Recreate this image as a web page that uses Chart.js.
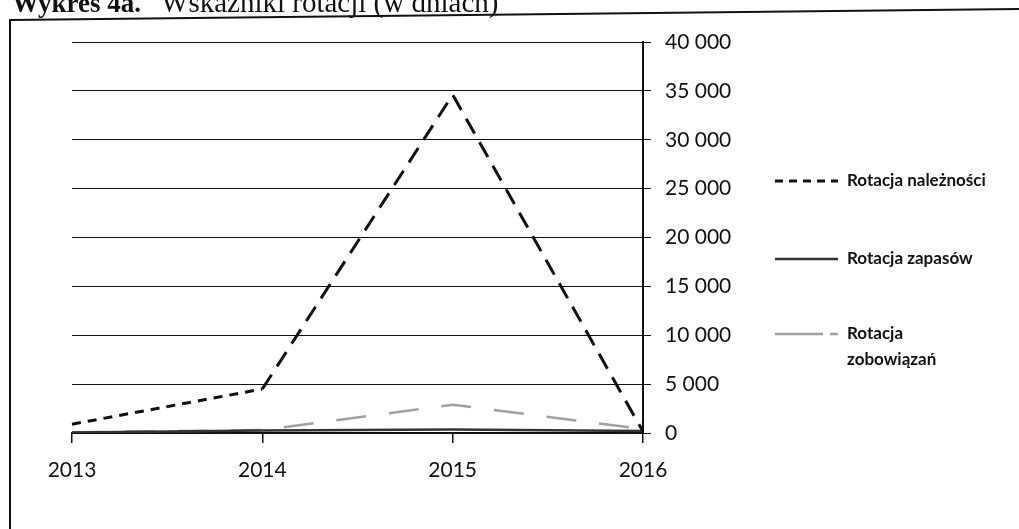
<!DOCTYPE html>
<html lang="pl">
<head>
<meta charset="utf-8">
<title>Wskaźniki rotacji</title>
<script src="https://cdn.jsdelivr.net/npm/chart.js@4/dist/chart.umd.min.js"></script>
<style>
  html, body { margin: 0; padding: 0; background: #fff; }
  #wrap { position: relative; width: 1019px; height: 529px; overflow: hidden; }
  #chart { position: absolute; left: 0; top: 0; }
  #title {
    position: absolute; left: 12px; top: -12px;
    font-family: "Liberation Serif", "DejaVu Serif", serif;
    font-size: 29px; line-height: 29px; color: #111; white-space: nowrap;
  }
  #title b { font-weight: bold; font-size: 27px; margin-right: 20px; }
</style>
</head>
<body>
<div id="wrap">
  <canvas id="chart" width="1019" height="529"></canvas>
  <div id="title"><b>Wykres 4a.</b>Wskaźniki rotacji (w dniach)</div>
</div>
<script>
// Lata na osi kategorii
const years = ['2013', '2014', '2015', '2016'];

// Wskaźniki rotacji w dniach
const rotacjaNaleznosci = [900, 4500, 34600, 150];
const rotacjaZapasow = [60, 250, 350, 200];
const rotacjaZobowiazan = [80, 300, 2900, 400];

// Podziałka osi wartości
const yMin = 0;
const yMax = 40000;
const yStep = 5000;

// Nazwy serii (ostatnia łamana w legendzie na dwie linie)
const seriesNames = [
  ['Rotacja należności'],
  ['Rotacja zapasów'],
  ['Rotacja', 'zobowiązań']
];

const fmt = v => String(v).replace(/\B(?=(\d{3})+(?!\d))/g, ' ');

// Ramka wykresu: lewa i górna krawędź
const framePlugin = {
  id: 'frame',
  beforeDraw(chart) {
    const ctx = chart.ctx;
    ctx.save();
    ctx.strokeStyle = '#111';
    ctx.lineWidth = 2;
    ctx.beginPath();
    ctx.moveTo(10, chart.height);
    ctx.lineTo(10, 20);
    ctx.lineTo(chart.width, 9);
    ctx.stroke();
    ctx.restore();
  }
};

// Legenda po prawej stronie, rysowana wg stylów serii
const sideLegend = {
  id: 'sideLegend',
  afterDraw(chart) {
    const ctx = chart.ctx;
    const x0 = chart.chartArea.right + 132;
    const rows = [181, 259, 334];
    ctx.save();
    chart.data.datasets.forEach((ds, i) => {
      const y = rows[i];
      ctx.strokeStyle = ds.borderColor;
      ctx.lineWidth = ds.borderWidth;
      ctx.setLineDash(ds.legendDash || []);
      ctx.beginPath();
      ctx.moveTo(x0, y);
      ctx.lineTo(x0 + 63, y);
      ctx.stroke();
      ctx.setLineDash([]);
      ctx.fillStyle = '#111';
      ctx.font = 'bold 17px Lato, sans-serif';
      ctx.textBaseline = 'middle';
      ctx.textAlign = 'left';
      seriesNames[i].forEach((line, k) => {
        ctx.fillText(line, x0 + 72, y + k * 26);
      });
    });
    ctx.restore();
  }
};

new Chart(document.getElementById('chart'), {
  type: 'line',
  data: {
    labels: years,
    datasets: [
      {
        label: seriesNames[0].join(' '),
        data: rotacjaNaleznosci,
        borderColor: '#111',
        borderWidth: 3,
        legendDash: [8, 6],
        segment: {
          borderDash: c => c.p0DataIndex === 0 ? [9, 7] : [17, 10]
        },
        pointRadius: 0,
        tension: 0,
        fill: false
      },
      {
        label: seriesNames[1].join(' '),
        data: rotacjaZapasow,
        borderColor: '#333',
        borderWidth: 2.5,
        pointRadius: 0,
        tension: 0,
        fill: false
      },
      {
        label: seriesNames[2].join(' '),
        data: rotacjaZobowiazan,
        borderColor: '#a0a0a0',
        borderWidth: 2.5,
        borderDash: [30, 23],
        legendDash: [48, 7, 10, 100],
        pointRadius: 0,
        tension: 0,
        fill: false
      }
    ]
  },
  options: {
    responsive: false,
    animation: false,
    layout: { padding: { top: 42, left: 72, right: 266, bottom: 0 } },
    plugins: {
      legend: { display: false },
      title: { display: false },
      tooltip: { enabled: false }
    },
    scales: {
      x: {
        offset: false,
        grid: {
          display: true,
          drawOnChartArea: false,
          drawTicks: true,
          tickLength: 10,
          color: '#111',
          lineWidth: 1.5
        },
        border: { display: true, color: '#111', width: 1.5 },
        ticks: {
          color: '#111',
          padding: 15,
          maxRotation: 0,
          font: { family: 'Lato', size: 21 }
        },
        afterFit(scale) { scale.height = 96; }
      },
      y: {
        position: 'right',
        min: yMin,
        max: yMax,
        grid: {
          color: '#111',
          lineWidth: 1,
          drawTicks: true,
          tickLength: 8
        },
        border: { display: true, color: '#111', width: 2 },
        ticks: {
          stepSize: yStep,
          color: '#111',
          padding: 14,
          font: { family: 'Lato', size: 21 },
          callback: v => fmt(v)
        },
        afterFit(scale) { scale.width = 110; }
      }
    }
  },
  plugins: [framePlugin, sideLegend]
});
</script>
</body>
</html>
